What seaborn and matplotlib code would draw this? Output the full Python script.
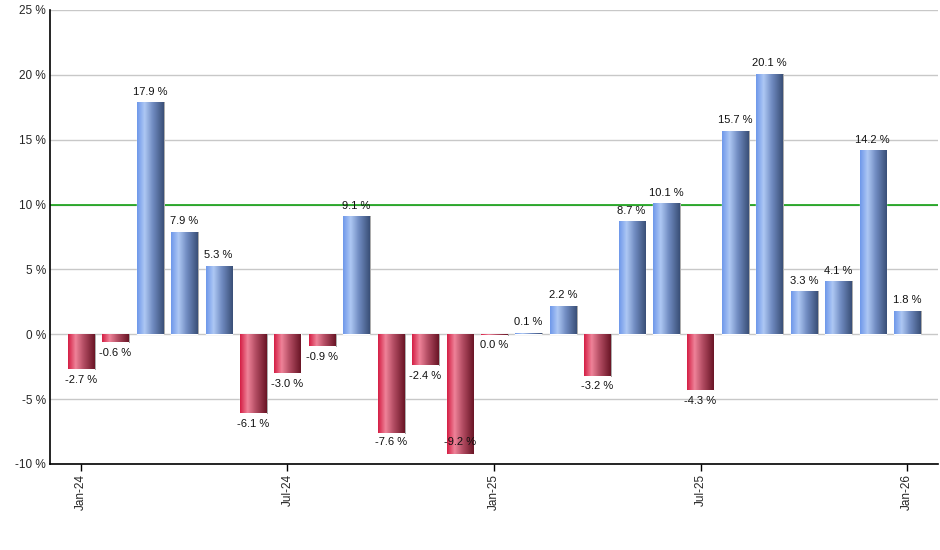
import numpy as np
import pandas as pd
import matplotlib
matplotlib.use("Agg")
import matplotlib.pyplot as plt
import seaborn as sns
from matplotlib.colors import LinearSegmentedColormap

months = ["Jan-24", "Feb-24", "Mar-24", "Apr-24", "May-24", "Jun-24", "Jul-24",
          "Aug-24", "Sep-24", "Oct-24", "Nov-24", "Dec-24", "Jan-25", "Feb-25",
          "Mar-25", "Apr-25", "May-25", "Jun-25", "Jul-25", "Aug-25", "Sep-25",
          "Oct-25", "Nov-25", "Dec-25", "Jan-26"]
values = [-2.7, -0.6, 17.9, 7.9, 5.3, -6.1, -3.0, -0.9, 9.1, -7.6, -2.4, -9.2,
          -0.04, 0.1, 2.2, -3.2, 8.7, 10.1, -4.3, 15.7, 20.1, 3.3, 4.1, 14.2, 1.8]
tick_labels = ["Jan-24", "Jul-24", "Jan-25", "Jul-25", "Jan-26"]
yticks = [-10, -5, 0, 5, 10, 15, 20, 25]
ref_level = 10

sns.set_theme(style="white")
plt.rcParams['font.family'] = ['Liberation Sans', 'DejaVu Sans']

df = pd.DataFrame({"month": months, "value": values})
df["sign"] = np.where(df["value"] >= 0, "pos", "neg")

fig = plt.figure(figsize=(9.4, 5.5), dpi=100)
ax = fig.add_axes([50/940, 1-464/550, 888/940, 454/550])

sns.barplot(data=df, x="month", y="value", hue="sign", palette={"pos": "#7fa6ec", "neg": "#d6244a"},
            dodge=False, width=0.76, legend=False, ax=ax, zorder=3)

blue_cmap = LinearSegmentedColormap.from_list("b", [(0, "#6f98ea"), (0.28, "#aec8f4"), (0.6, "#6f8ac0"), (1, "#3a5078")])
red_cmap = LinearSegmentedColormap.from_list("r", [(0, "#d41f45"), (0.28, "#ef8399"), (0.6, "#b04a60"), (1, "#6a1526")])
grad = np.linspace(0, 1, 64).reshape(1, -1)

for p in list(ax.patches):
    x0, w = p.get_x(), p.get_width()
    y0, h = p.get_y(), p.get_height()
    if abs(h) < 1e-9:
        continue
    cmap = blue_cmap if h > 0 else red_cmap
    ylo, yhi = min(y0, y0 + h), max(y0, y0 + h)
    # shadow
    ax.add_patch(plt.Rectangle((x0 + 0.05, ylo - 0.08 if h < 0 else ylo), w, yhi - ylo + (0.08 if h < 0 else 0),
                               facecolor="#9a9a9a", edgecolor="none", zorder=2.5))
    im = ax.imshow(grad, cmap=cmap, aspect="auto", extent=(x0, x0 + w, ylo, yhi), zorder=3.5,
                   interpolation="bilinear")
    im.set_clip_path(p)

# labels
for i, v in enumerate(values):
    txt = f"{v:.1f}".replace("-0.0", "0.0") + " %"
    if v >= 0:
        ax.annotate(txt, (i, v), xytext=(0, 4), textcoords="offset points", ha="center", va="bottom",
                    fontsize=8, color="#111111", zorder=5)
    else:
        y = max(v, -7.5)
        ax.annotate(txt, (i, y), xytext=(0, -4), textcoords="offset points", ha="center", va="top",
                    fontsize=8, color="#111111", zorder=5)

ax.axhline(ref_level, color="#009a00", lw=1.1, zorder=1.5)

ax.set_ylim(-10, 25)
ax.set_xlim(-0.9, 24.9)
ax.set_yticks(yticks)
ax.set_yticklabels([f"{t} %" for t in yticks], fontsize=8.5)
ax.yaxis.grid(True, color="#c8c8c8", lw=1, zorder=0)
ax.set_axisbelow(True)
pos = [months.index(t) for t in tick_labels]
ax.set_xticks(pos)
ax.set_xticklabels(tick_labels, rotation=90, fontsize=8.5)
ax.tick_params(axis="x", bottom=True, length=5, width=1, color="black", pad=2)
ax.tick_params(axis="y", left=False, length=0, pad=3)
ax.set_xlabel("")
ax.set_ylabel("")
for s in ["top", "right"]:
    ax.spines[s].set_visible(False)
for s in ["left", "bottom"]:
    ax.spines[s].set_color("black")
    ax.spines[s].set_linewidth(1.2)

fig.savefig("out.png", dpi=100, facecolor="white")
